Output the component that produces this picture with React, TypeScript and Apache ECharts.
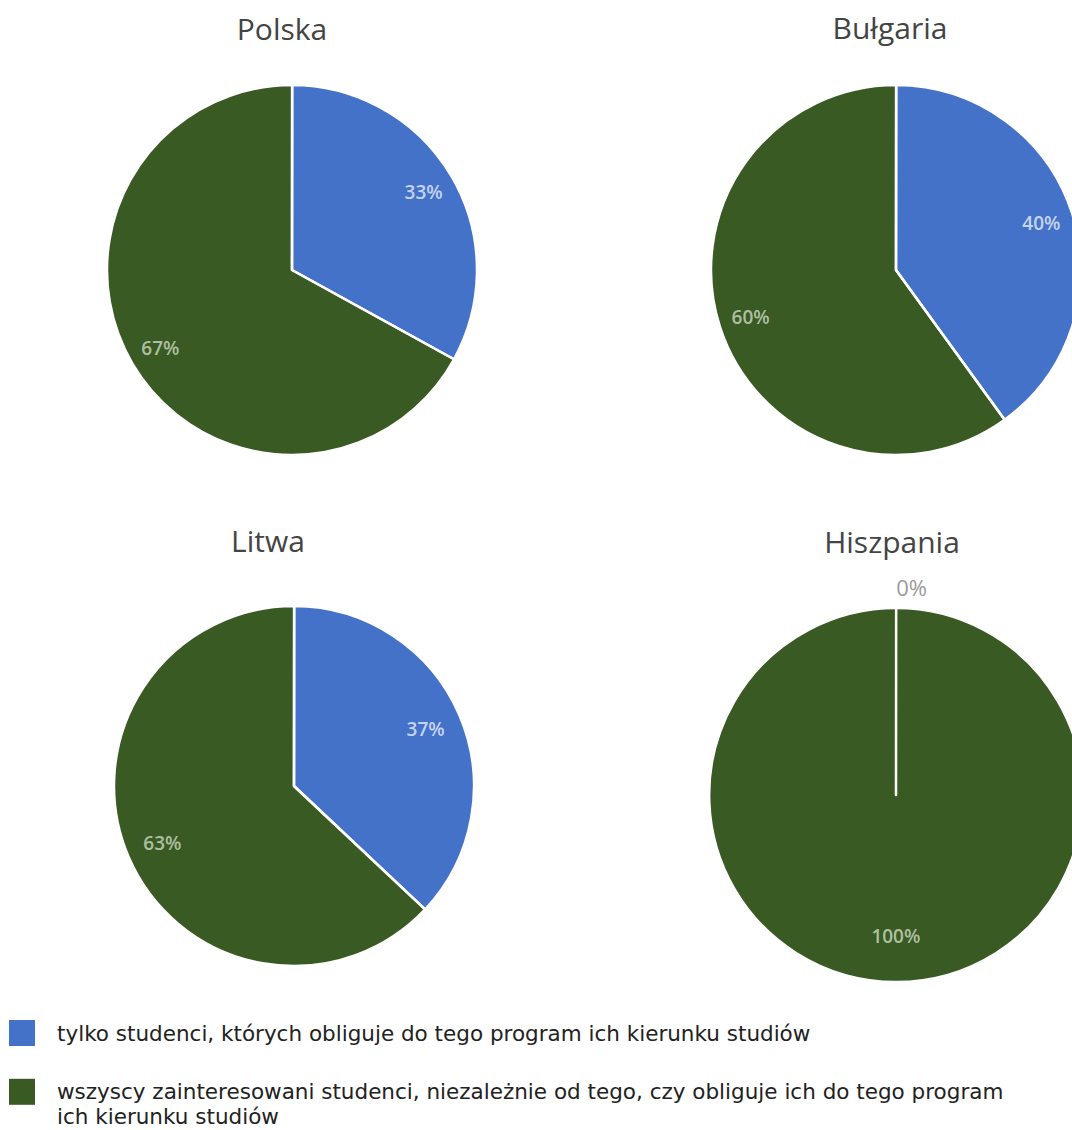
import React, { useEffect, useRef } from "react";
import * as echarts from "echarts";

const categories = [
  "tylko studenci, których obliguje do tego program ich kierunku studiów",
  "wszyscy zainteresowani studenci, niezależnie od tego, czy obliguje ich do tego program ich kierunku studiów",
];
const countries = ["Polska", "Bułgaria", "Litwa", "Hiszpania"];
const onlyRequired = [33, 40, 37, 0];
const allInterested = [67, 60, 63, 100];

const COLORS = ["#4472c8", "#3a5a24"];
const FONT = "Open Sans";
const LEGEND_FONT = "DejaVu Sans";

// layout (pixels)
const centers = [
  [292, 270],
  [896, 270],
  [294, 786],
  [896, 795],
];
const radii = [185, 185, 180, 187];
const labelFrac = [0.81, 0.81, 0.78, 0.74];
const titlePos = [
  [277, 8],
  [885, 7],
  [263, 520],
  [887, 521],
];
const START = 89.95;

export default function App() {
  const ref = useRef<HTMLDivElement>(null);
  useEffect(() => {
    if (!ref.current) return;
    const chart = echarts.init(ref.current, null, { renderer: "svg" });
    const series: any[] = [];
    // filled slices
    countries.forEach((c, i) => {
      const vals = [onlyRequired[i], allInterested[i]];
      series.push({
        type: "pie",
        name: c,
        center: centers[i],
        radius: [0, radii[i]],
        startAngle: START,
        clockwise: true,
        silent: true,
        label: { show: false },
        labelLine: { show: false },
        itemStyle: { borderWidth: 0 },
        data: categories.map((n, k) => ({
          name: n,
          value: vals[k],
          itemStyle: { color: COLORS[k] },
        })),
      });
    });
    // white slice outlines drawn on top (shows the zero-width slice edge too)
    countries.forEach((c, i) => {
      const vals = [onlyRequired[i], allInterested[i]];
      series.push({
        type: "pie",
        name: c + " krawędzie",
        center: centers[i],
        radius: [0, radii[i]],
        startAngle: START,
        clockwise: true,
        silent: true,
        label: { show: false },
        labelLine: { show: false },
        itemStyle: { color: "rgba(0,0,0,0)", borderColor: "#ffffff", borderWidth: 2.5 },
        data: categories.map((n, k) => ({
          name: n,
          value: vals[k],
          itemStyle: { color: "rgba(0,0,0,0)" },
        })),
      });
    });
    // percentage labels
    countries.forEach((c, i) => {
      const vals = [onlyRequired[i], allInterested[i]];
      const r = radii[i];
      series.push({
        type: "pie",
        name: c + " etykiety",
        center: centers[i],
        radius: [r * (2 * labelFrac[i] - 1), r],
        startAngle: START,
        clockwise: true,
        silent: true,
        avoidLabelOverlap: false,
        itemStyle: { color: "rgba(0,0,0,0)", borderWidth: 0 },
        label: {
          show: true,
          position: "inside",
          formatter: "{c}%",
          fontFamily: FONT,
          fontSize: 19,
          fontWeight: 600,
        },
        labelLine: { show: false },
        data: categories.map((n, k) => {
          const item: any = {
            name: n,
            value: vals[k],
            itemStyle: { color: "rgba(0,0,0,0)" },
            label: {
              color: k === 0 ? "rgba(214,225,246,0.9)" : "rgba(190,206,178,0.9)",
            },
          };
          if (vals[k] === 0) {
            item.label = {
              position: "outside",
              color: "#9a9a9a",
              fontSize: 22,
              fontWeight: "normal",
              distanceToLabelLine: 0,
            };
            item.labelLine = { show: false, length: 21, length2: 0 };
          }
          return item;
        }),
      });
    });

    const legendText = {
      fontFamily: LEGEND_FONT,
      fontSize: 21.5,
      color: "#222222",
      lineHeight: 25.2,
      padding: [0, 0, 0, 17],
    };
    const option: any = {
      animation: false,
      backgroundColor: "#ffffff",
      title: countries.map((c, i) => ({
        text: c,
        left: titlePos[i][0],
        top: titlePos[i][1],
        textAlign: "center",
        textStyle: {
          fontFamily: FONT,
          fontSize: 30,
          fontWeight: "normal",
          color: "#444444",
        },
      })),
      legend: [
        {
          data: [{ name: categories[0], itemStyle: { color: COLORS[0] } }],
          left: 9,
          top: 1020,
          padding: 0,
          icon: "rect",
          itemWidth: 26,
          itemHeight: 26,
          selectedMode: false,
          textStyle: legendText,
        },
        {
          data: [{ name: categories[1], itemStyle: { color: COLORS[1] } }],
          left: 9,
          top: 1054,
          padding: 0,
          icon: "rect",
          itemWidth: 26,
          itemHeight: 26,
          selectedMode: false,
          formatter: () =>
            "\nwszyscy zainteresowani studenci, niezależnie od tego, czy obliguje ich do tego program\nich kierunku studiów",
          textStyle: legendText,
        },
      ],
      series,
    };
    chart.setOption(option);
    return () => chart.dispose();
  }, []);
  return (
    <div
      ref={ref}
      style={{ position: "absolute", left: 0, top: 0, width: 1072, height: 1130 }}
    />
  );
}
